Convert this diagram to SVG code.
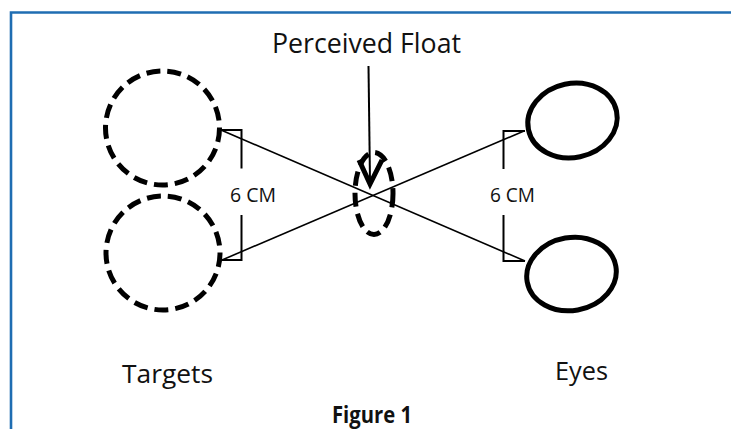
<svg xmlns="http://www.w3.org/2000/svg" width="731" height="429" viewBox="0 0 731 429">
<style>
.txt{font-family:"Open Sans","Liberation Sans",sans-serif;fill:#111}
.dash{fill:none;stroke:#000;stroke-width:5;stroke-dasharray:14 7}
.eye{fill:none;stroke:#000;stroke-width:5}
.ln{fill:none;stroke:#000;stroke-width:1.6}
.br{fill:none;stroke:#000;stroke-width:2}
</style>
<rect width="731" height="429" fill="#fff"/>
<g id="border">
<path d="M11,429 V12.5 H731" fill="none" stroke="#1f6db2" stroke-width="2.6"/>
</g>
<g id="title">
<text class="txt" x="272" y="53" font-size="26.5" textLength="189" lengthAdjust="spacingAndGlyphs">Perceived Float</text>
</g>
<g id="target-top">
<circle class="dash" cx="162.5" cy="128" r="57"/>
</g>
<g id="target-bottom">
<circle class="dash" cx="163" cy="253" r="57"/>
</g>
<g id="float">
<ellipse class="dash" cx="374" cy="193.5" rx="19" ry="41" stroke-width="4.5" stroke-dasharray="14 7"/>
</g>
<g id="eye-top">
<ellipse class="eye" cx="572.5" cy="120.5" rx="45" ry="37" transform="rotate(-12 572.5 120.5)"/>
</g>
<g id="eye-bottom">
<ellipse class="eye" cx="571.5" cy="274" rx="45" ry="36.5" transform="rotate(-10 571.5 274)"/>
</g>
<g id="connectors">
<line class="ln" x1="221" y1="130" x2="525" y2="261"/>
<line class="ln" x1="222" y1="260" x2="524" y2="131"/>
<path class="br" d="M221,130 H241.5 V168.5 M241.5,215 V260 H221"/>
<path class="br" d="M525,131 H503.5 V169 M503.5,215 V261 H525"/>
<line x1="368.5" y1="66" x2="370" y2="182" stroke="#000" stroke-width="2"/>
<polyline points="359,160 370,184 382,160" fill="none" stroke="#000" stroke-width="5" stroke-linejoin="miter"/>
</g>
<g id="labels">
<text class="txt" x="230" y="202" font-size="19.5" textLength="46" lengthAdjust="spacingAndGlyphs">6 CM</text>
<text class="txt" x="490" y="202" font-size="19.5" textLength="45" lengthAdjust="spacingAndGlyphs">6 CM</text>
<text class="txt" x="122" y="383" font-size="25" textLength="91" lengthAdjust="spacingAndGlyphs">Targets</text>
<text class="txt" x="555" y="380" font-size="25" textLength="53" lengthAdjust="spacingAndGlyphs">Eyes</text>
<text class="txt" x="332" y="423" font-size="23" font-weight="bold" textLength="80" lengthAdjust="spacingAndGlyphs">Figure 1</text>
</g>
</svg>
